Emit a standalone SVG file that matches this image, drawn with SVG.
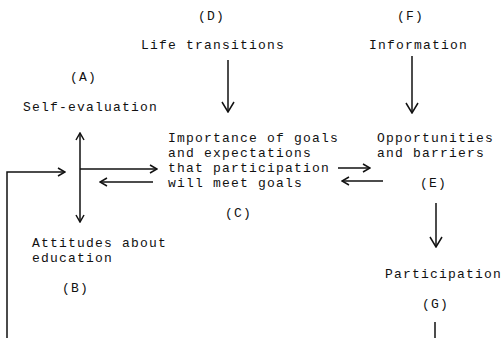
<svg xmlns="http://www.w3.org/2000/svg" width="504" height="338" viewBox="0 0 504 338">
<style>
text{font-family:"Liberation Mono","Courier New",monospace;font-size:13px;letter-spacing:1.2px;fill:#111}
.c{fill:none;stroke:#111;stroke-width:1.5}
</style>
<defs>
<marker id="big" viewBox="0 0 12 14" refX="11" refY="7" markerWidth="12" markerHeight="14" markerUnits="userSpaceOnUse" orient="auto">
<path d="M1,1 L11,7 L1,13" fill="none" stroke="#111" stroke-width="1.5"/>
</marker>
<marker id="sm" viewBox="0 0 10 10" refX="9" refY="5" markerWidth="10" markerHeight="10" markerUnits="userSpaceOnUse" orient="auto">
<path d="M2,1 L9,5 L2,9" fill="none" stroke="#111" stroke-width="1.5"/>
</marker>
</defs>
<rect width="504" height="338" fill="#fff"/>
<g id="D"><text x="198" y="20">(D)</text><text x="141" y="49">Life transitions</text></g>
<g id="F"><text x="397" y="20">(F)</text><text x="369" y="49">Information</text></g>
<g id="A"><text x="70" y="81">(A)</text><text x="23" y="111">Self-evaluation</text></g>
<g id="C"><text x="168" y="142">Importance of goals</text><text x="168" y="157">and expectations</text><text x="168" y="172">that participation</text><text x="168" y="187">will meet goals</text><text x="225" y="217">(C)</text></g>
<g id="E"><text x="377" y="142">Opportunities</text><text x="377" y="157">and barriers</text><text x="420" y="187">(E)</text></g>
<g id="B"><text x="32" y="247">Attitudes about</text><text x="32" y="262">education</text><text x="62" y="292">(B)</text></g>
<g id="G"><text x="385" y="278">Participation</text><text x="422" y="308">(G)</text></g>
<g id="connectors">
<line class="c" x1="228" y1="60" x2="228" y2="112" marker-end="url(#big)"/>
<line class="c" x1="412" y1="56" x2="412" y2="113" marker-end="url(#big)"/>
<line class="c" x1="80" y1="169" x2="80" y2="133" marker-end="url(#sm)"/>
<line class="c" x1="80" y1="169" x2="80" y2="222" marker-end="url(#sm)"/>
<line class="c" x1="80" y1="169" x2="157" y2="169" marker-end="url(#sm)"/>
<line class="c" x1="153" y1="182" x2="100" y2="182" marker-end="url(#sm)"/>
<line class="c" x1="338" y1="168" x2="370" y2="168" marker-end="url(#sm)"/>
<line class="c" x1="383" y1="181" x2="342" y2="181" marker-end="url(#sm)"/>
<line class="c" x1="436" y1="203" x2="436" y2="247" marker-end="url(#big)"/>
<polyline class="c" points="435,322 435,338"/>
<polyline class="c" points="7,338 7,172 65,172" marker-end="url(#sm)"/>
</g>
</svg>
